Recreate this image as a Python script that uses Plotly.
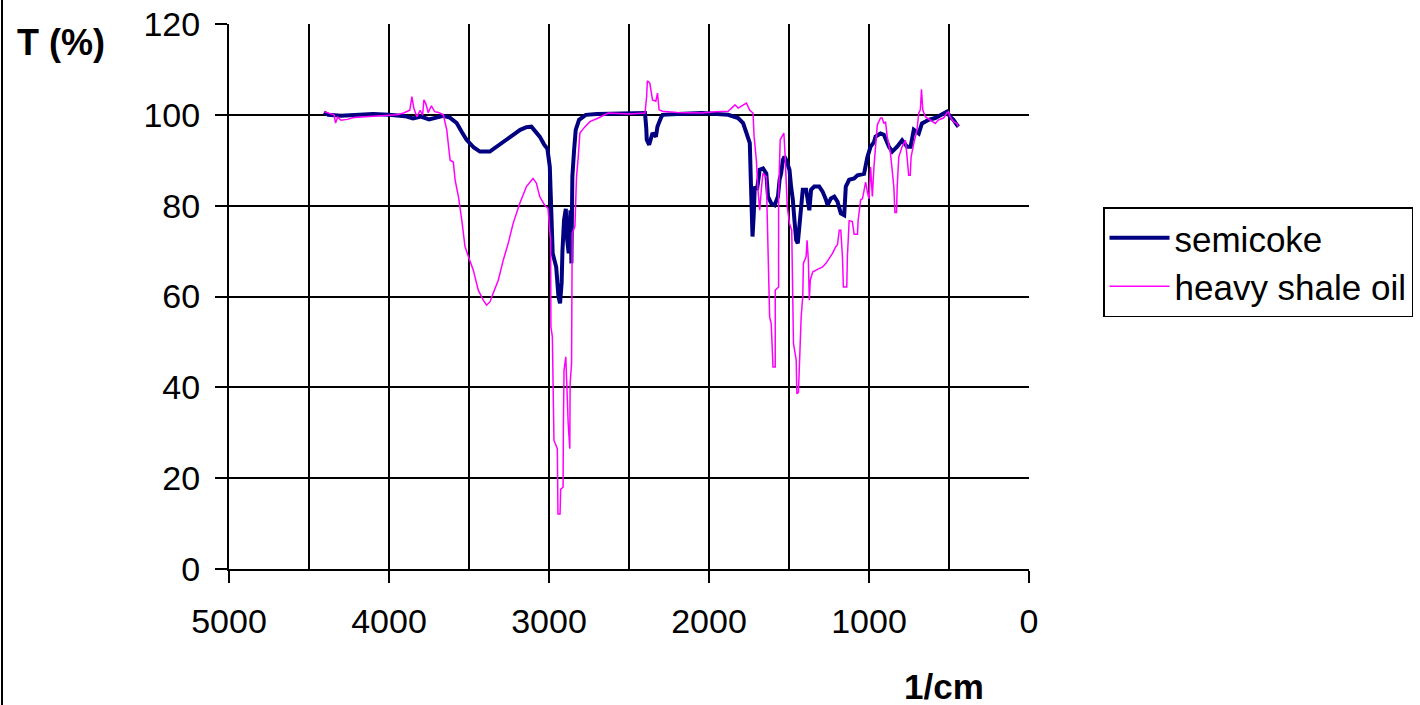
import plotly.graph_objects as go

# ---- data ----
semicoke_wn = [4407, 4380, 4300, 4200, 4100, 4000, 3900, 3850, 3800, 3750, 3700, 3660, 3620, 3577, 3545,
               3515, 3470, 3432, 3370, 3307, 3260, 3224, 3180, 3141, 3110, 3084, 3058, 3031, 3010, 2995,
               2985, 2977, 2955, 2941, 2931, 2921, 2916, 2906, 2895, 2888, 2877, 2872, 2866, 2860, 2854,
               2843, 2833, 2812, 2770, 2700, 2600, 2500, 2400, 2392, 2389, 2374, 2353, 2332, 2322, 2301,
               2290, 2200, 2100, 2045, 1950, 1880, 1818, 1787, 1766, 1745, 1738, 1735, 1728, 1720, 1714,
               1700, 1683, 1662, 1642, 1631, 1611, 1590, 1569, 1559, 1549, 1538, 1528, 1518, 1497, 1487,
               1476, 1466, 1455, 1445, 1435, 1424, 1414, 1393, 1373, 1362, 1342, 1311, 1290, 1269, 1259,
               1238, 1217, 1197, 1176, 1155, 1145, 1124, 1093, 1072, 1031, 1010, 990, 969, 959, 928,
               907, 876, 855, 824, 793, 762, 740, 720, 689, 669, 627, 586, 555, 513, 493, 472, 451, 441]
semicoke_T = [100.5, 100.0, 99.8, 100.1, 100.2, 100.0, 99.7, 99.2, 99.6, 99.0, 99.5, 99.8, 99.4, 98.2, 96.2,
              94.5, 92.8, 91.9, 91.9, 93.4, 94.7, 95.6, 96.7, 97.3, 97.4, 96.3, 95.2, 93.5, 92.5, 88.6,
              80.4, 69.5, 66.5, 60.0, 58.5, 63.0, 70.0, 76.8, 79.3, 73.0, 69.5, 76.0, 79.0, 67.3, 86.4,
              92.3, 96.7, 98.9, 100.0, 100.2, 100.3, 100.4, 100.4, 97.0, 94.5, 93.4, 96.0, 95.2, 97.4, 99.3,
              100.0, 100.2, 100.3, 100.4, 100.2, 100.0, 99.3, 98.2, 96.0, 93.8, 84.9, 78.3, 73.2, 78.3, 84.2,
              83.5, 87.9, 88.2, 87.1, 82.0, 80.5, 80.1, 82.0, 85.7, 87.1, 90.1, 90.8, 90.1, 87.9, 84.2,
              81.3, 76.8, 72.4, 71.7, 76.1, 80.5, 83.5, 83.5, 79.0, 83.5, 84.2, 84.2, 83.1, 81.3, 80.1,
              81.6, 82.0, 80.9, 78.3, 77.9, 84.2, 85.7, 86.0, 86.7, 87.0, 90.7, 93.0, 94.0, 95.2, 95.9,
              95.6, 93.0, 91.9, 93.0, 94.4, 93.0, 93.0, 96.7, 95.9, 98.1, 98.9, 99.3, 100.0, 100.7, 99.6,
              98.9, 97.8, 97.4]

shale_wn = [4407, 4344, 4334, 4320, 4300, 4261, 4220, 4100, 3950, 3909, 3870, 3857, 3845, 3826, 3805,
            3790, 3782, 3770, 3755, 3735, 3715, 3690, 3660, 3649, 3639, 3618, 3598, 3587, 3566, 3545,
            3525, 3504, 3473, 3442, 3411, 3390, 3369, 3349, 3317, 3286, 3255, 3224, 3183, 3141, 3100,
            3079, 3058, 3027, 3006, 2996, 2990, 2988, 2979, 2969, 2948, 2944, 2931, 2927, 2912, 2910,
            2906, 2895, 2891, 2880, 2870, 2868, 2859, 2855, 2838, 2828, 2817, 2807, 2775, 2744, 2692,
            2629, 2500, 2400, 2390, 2385, 2370, 2353, 2332, 2322, 2312, 2290, 2200, 2100, 2045, 1962,
            1880, 1849, 1838, 1818, 1787, 1766, 1745, 1725, 1718, 1704, 1694, 1683, 1673, 1663, 1642,
            1631, 1621, 1611, 1600, 1586, 1586, 1565, 1565, 1555, 1545, 1532, 1524, 1511, 1497, 1483,
            1472, 1455, 1451, 1441, 1433, 1424, 1414, 1410, 1393, 1387, 1379, 1373, 1367, 1352, 1331,
            1311, 1290, 1269, 1248, 1228, 1207, 1197, 1186, 1176, 1166, 1160, 1139, 1135, 1124, 1104,
            1093, 1072, 1068, 1052, 1041, 1021, 1010, 1000, 990, 979, 969, 959, 948, 928, 918,
            907, 897, 886, 866, 855, 845, 838, 828, 824, 814, 793, 772, 762, 752, 742,
            737, 720, 700, 689, 679, 672, 664, 648, 617, 586, 565, 534, 513, 503, 493,
            472, 451, 441]
shale_T = [100.7, 100.0, 98.2, 99.5, 98.8, 99.0, 99.4, 99.7, 100.0, 100.4, 101.0, 104.0, 101.5, 99.6, 101.0,
           99.9, 103.3, 102.5, 100.5, 102.0, 100.7, 100.5, 100.0, 98.2, 96.7, 90.0, 89.6, 85.7, 82.0, 76.8,
           71.0, 68.8, 65.8, 61.4, 59.2, 58.1, 58.8, 60.7, 63.6, 68.0, 71.7, 76.1, 80.5, 84.2, 86.0,
           85.0, 82.0, 80.1, 79.4, 74.6, 72.4, 53.3, 51.1, 28.3, 26.5, 12.1, 12.1, 17.6, 18.0, 32.0,
           43.8, 46.7, 41.5, 32.0, 26.5, 40.8, 45.2, 73.9, 75.4, 86.4, 90.8, 96.0, 97.4, 98.5, 99.3,
           100.4, 100.2, 100.4, 104.0, 107.5, 107.0, 103.3, 103.0, 104.8, 101.1, 100.8, 100.5, 100.4, 100.4, 100.7,
           100.8, 101.8, 102.2, 101.5, 102.2, 102.6, 101.0, 100.4, 95.2, 90.0, 83.5, 79.0, 83.5, 87.1, 86.4,
           70.2, 55.5, 54.0, 44.5, 44.5, 61.4, 62.1, 82.0, 94.5, 95.2, 96.0, 90.9, 79.8, 76.1, 74.6,
           49.6, 46.0, 38.6, 38.9, 46.7, 55.5, 60.0, 67.3, 68.8, 72.4, 68.0, 59.2, 63.6, 65.4, 65.8,
           66.2, 66.5, 67.3, 68.4, 69.5, 71.0, 71.4, 74.6, 74.6, 68.8, 62.1, 62.1, 68.8, 76.7, 76.5,
           73.7, 73.7, 76.7, 81.3, 81.5, 85.2, 83.0, 81.5, 88.5, 82.0, 88.6, 92.2, 97.8, 99.3, 99.3,
           98.1, 98.5, 95.2, 91.5, 87.8, 84.2, 78.5, 78.5, 84.0, 90.7, 93.0, 94.4, 90.7, 86.7, 86.7,
           90.7, 93.7, 96.7, 100.4, 101.1, 105.6, 101.1, 99.6, 98.9, 98.1, 98.9, 99.3, 100.4, 100.7, 99.6,
           98.5, 98.1, 97.4]

x_ticks = [5000, 4000, 3000, 2000, 1000, 0]
x_grid = [5000, 4500, 4000, 3500, 3000, 2500, 2000, 1500, 1000, 500, 0]
y_ticks = [0, 20, 40, 60, 80, 100, 120]
y_grid = [20, 40, 60, 80, 100]

FONT = "Liberation Sans, Arial, sans-serif"

fig = go.Figure()
fig.add_trace(go.Scatter(x=semicoke_wn, y=semicoke_T, mode="lines", name="semicoke",
                         line=dict(color="#000080", width=4)))
fig.add_trace(go.Scatter(x=shale_wn, y=shale_T, mode="lines", name="heavy shale oil",
                         line=dict(color="#FF00FF", width=1.5)))

fig.update_layout(
    width=1420, height=705,
    margin=dict(l=229, r=391, t=24, b=136, autoexpand=False),
    paper_bgcolor="white", plot_bgcolor="white",
    font=dict(family=FONT, color="black", size=34),
    showlegend=True,
    legend=dict(x=1.0925, y=0.664, xanchor="left", yanchor="top",
                bordercolor="black", borderwidth=1.5, bgcolor="white",
                font=dict(size=35, family=FONT), tracegroupgap=0,
                itemwidth=60),
    xaxis=dict(range=[5000, 0], tickmode="array", tickvals=x_ticks,
               showgrid=False, zeroline=False, showline=True, linecolor="black", linewidth=2,
               ticks="outside", ticklen=12, tickwidth=2, tickcolor="black",
               tickfont=dict(size=34, family=FONT), ticklabelstandoff=9,
               minor=dict(tickmode="array", tickvals=x_grid, showgrid=True,
                          gridcolor="black", gridwidth=1.5, ticks=""),
               automargin=False),
    yaxis=dict(range=[0, 120], tickmode="array", tickvals=y_ticks,
               showgrid=False, zeroline=False, showline=True, linecolor="black", linewidth=2,
               ticks="outside", ticklen=12, tickwidth=2, tickcolor="black",
               tickfont=dict(size=34, family=FONT), ticklabelstandoff=8,
               minor=dict(tickmode="array", tickvals=y_grid, showgrid=True,
                          gridcolor="black", gridwidth=1.5, ticks=""),
               automargin=False),
)

# axis titles as annotations (positioned like the original)
fig.add_annotation(text="<b>T (%)</b>", xref="paper", yref="paper",
                   x=(61 - 229) / 800, y=(569 - 42) / 545, showarrow=False,
                   font=dict(size=36, family=FONT), xanchor="center", yanchor="middle")
fig.add_annotation(text="<b>1/cm</b>", xref="paper", yref="paper",
                   x=(944 - 229) / 800, y=(569 - 686) / 545, showarrow=False,
                   font=dict(size=35, family=FONT), xanchor="center", yanchor="middle")

# outer chart border (left edge visible in the reference)
fig.add_shape(type="line", xref="paper", yref="paper",
              x0=(2 - 229) / 800, x1=(2 - 229) / 800, y0=(569 - 705) / 545, y1=(569 - 0) / 545,
              line=dict(color="black", width=2))

fig.write_html("out.html", config={"displayModeBar": False},
               post_script="document.body.style.margin='0px';document.body.style.overflow='hidden';")
